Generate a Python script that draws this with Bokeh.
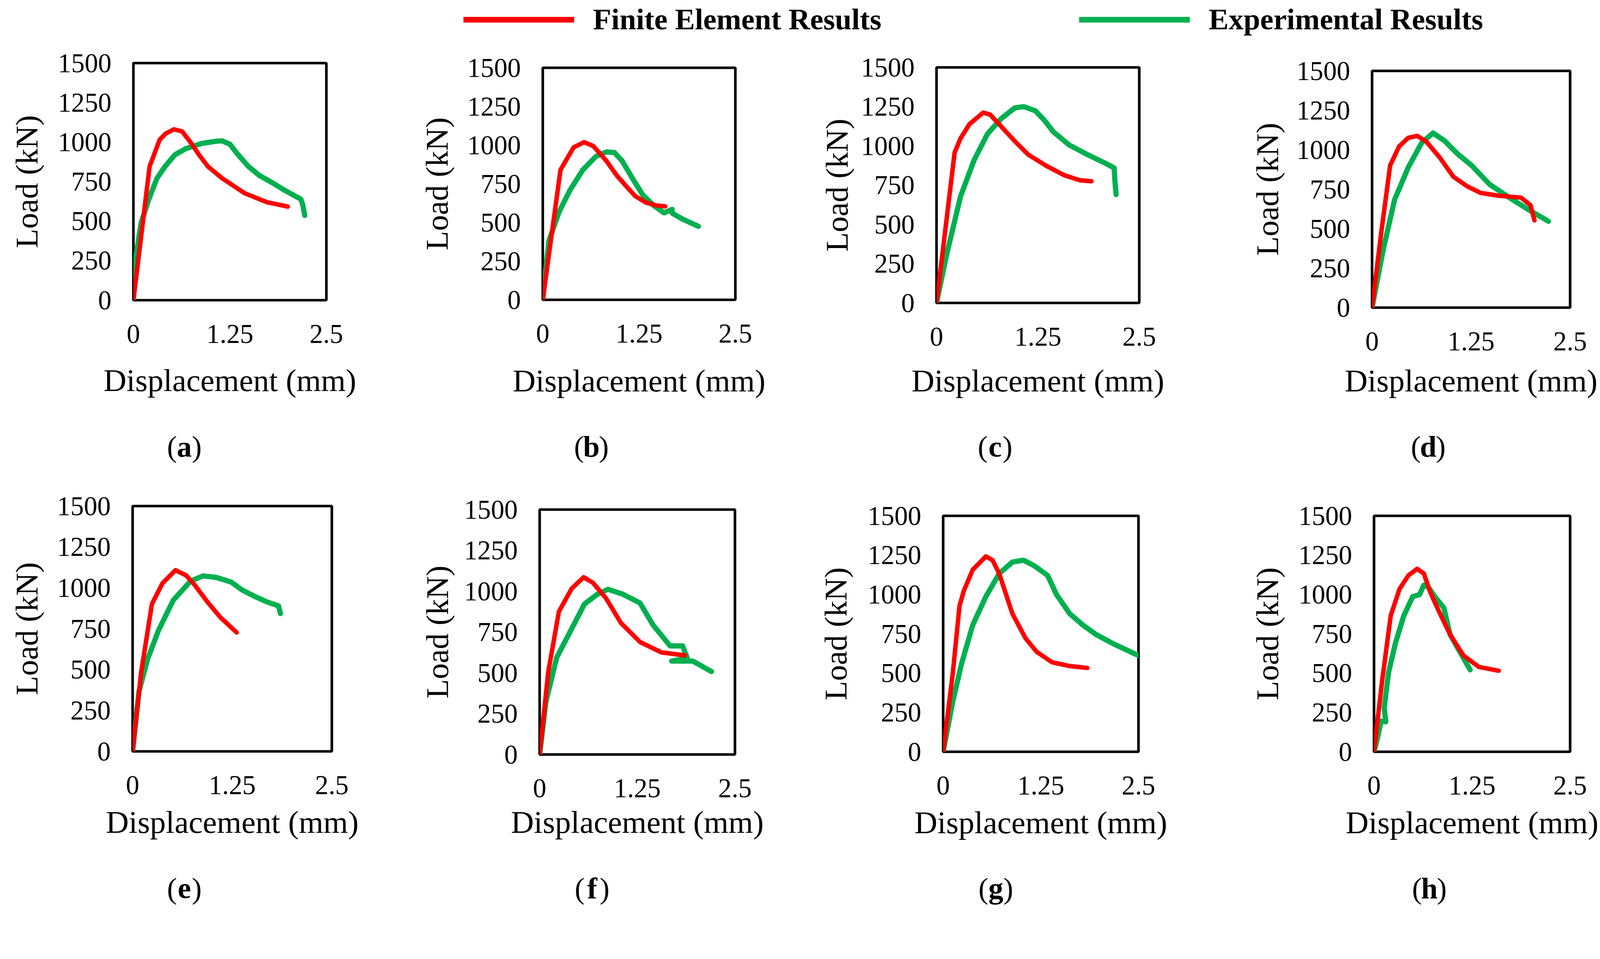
from bokeh.plotting import figure
from bokeh.models import Range1d, FixedTicker, Legend, LegendItem, Spacer
from bokeh.core.properties import value
from bokeh.layouts import column, row
from bokeh.embed import file_html
from bokeh.resources import INLINE

# ---------------- data ----------------
x_ticks = [0, 1.25, 2.5]
x_tick_labels = ["0", "1.25", "2.5"]
y_ticks = [0, 250, 500, 750, 1000, 1250, 1500]
x_title = "Displacement (mm)"
y_title = "Load (kN)"
legend_labels = ["Finite Element Results", "Experimental Results"]
panel_letters = ["a", "b", "c", "d", "e", "f", "g", "h"]

fe_a_x = [0, 0.21, 0.34, 0.42, 0.525, 0.63, 0.745, 0.85, 0.965, 1.15, 1.25, 1.44, 1.73, 2.0]
fe_a_y = [0, 846, 1015, 1055, 1081, 1068, 996, 920, 846, 771, 739, 677, 620, 592]
ex_a_x = [0, 0.017, 0.1, 0.2, 0.305, 0.41, 0.54, 0.68, 0.88, 1.08, 1.15, 1.25, 1.355, 1.49, 1.63, 1.8, 1.96, 2.17, 2.195, 2.22]
ex_a_y = [0, 226, 489, 639, 771, 846, 921, 959, 991, 1006, 1008, 987, 921, 846, 790, 743, 695, 639, 602, 536]

fe_b_x = [0, 0.23, 0.40, 0.537, 0.656, 0.826, 0.963, 1.1, 1.2, 1.337, 1.473, 1.59]
fe_b_y = [0, 840, 985, 1019, 994, 898, 802, 725, 671, 629, 610, 604]
ex_b_x = [0, 0.078, 0.214, 0.35, 0.52, 0.69, 0.826, 0.93, 1.03, 1.167, 1.3, 1.44, 1.575, 1.68, 1.68, 1.81, 2.02]
ex_b_y = [0, 379, 571, 706, 840, 927, 956, 952, 898, 783, 677, 610, 562, 585, 560, 523, 475]

fe_c_x = [0, 0.223, 0.296, 0.407, 0.575, 0.66, 0.77, 0.965, 1.13, 1.356, 1.58, 1.77, 1.91]
fe_c_y = [0, 957, 1048, 1139, 1212, 1200, 1139, 1030, 945, 872, 812, 781, 775]
ex_c_x = [0, 0.128, 0.296, 0.463, 0.63, 0.8, 0.965, 1.077, 1.217, 1.33, 1.44, 1.636, 1.86, 2.08, 2.19, 2.2, 2.215]
ex_c_y = [0, 315, 678, 909, 1078, 1175, 1242, 1250, 1224, 1163, 1090, 1006, 945, 890, 860, 775, 690]

fe_d_x = [0, 0.114, 0.228, 0.342, 0.457, 0.57, 0.685, 0.856, 1.027, 1.2, 1.37, 1.6, 1.88, 2.0, 2.05]
fe_d_y = [0, 469, 901, 1022, 1076, 1088, 1052, 950, 829, 769, 727, 709, 697, 649, 553]
ex_d_x = [0, 0.143, 0.285, 0.457, 0.628, 0.77, 0.913, 1.08, 1.256, 1.484, 1.77, 2.0, 2.226]
ex_d_y = [0, 373, 685, 889, 1046, 1106, 1058, 974, 901, 781, 685, 613, 547]

fe_e_x = [0, 0.107, 0.242, 0.376, 0.538, 0.672, 0.78, 0.94, 1.1, 1.306]
fe_e_y = [0, 483, 901, 1029, 1108, 1076, 1017, 913, 820, 727]
ex_e_x = [0, 0.08, 0.188, 0.323, 0.51, 0.726, 0.887, 1.05, 1.237, 1.37, 1.53, 1.69, 1.83, 1.855]
ex_e_y = [0, 366, 564, 738, 924, 1041, 1073, 1064, 1035, 988, 948, 913, 890, 843]

fe_f_x = [0, 0.109, 0.246, 0.41, 0.563, 0.684, 0.848, 1.04, 1.285, 1.56, 1.86]
fe_f_y = [0, 502, 875, 1016, 1086, 1051, 958, 806, 689, 625, 607]
ex_f_x = [0, 0.082, 0.219, 0.41, 0.574, 0.738, 0.875, 1.067, 1.285, 1.45, 1.67, 1.83, 1.89, 1.69, 1.96, 2.2]
ex_f_y = [0, 327, 595, 770, 922, 981, 1012, 981, 928, 794, 665, 665, 590, 572, 572, 508]

fe_g_x = [0, 0.124, 0.209, 0.265, 0.378, 0.547, 0.632, 0.717, 0.886, 1.055, 1.196, 1.394, 1.62, 1.845]
fe_g_y = [0, 503, 927, 1024, 1157, 1242, 1218, 1133, 878, 721, 636, 569, 545, 533]
ex_g_x = [0, 0.124, 0.237, 0.378, 0.547, 0.717, 0.886, 1.027, 1.168, 1.337, 1.45, 1.62, 1.79, 1.958, 2.184, 2.5]
ex_g_y = [0, 321, 563, 805, 987, 1133, 1206, 1218, 1182, 1121, 1000, 878, 805, 745, 685, 612]

fe_h_x = [0, 0.101, 0.213, 0.326, 0.438, 0.55, 0.635, 0.719, 0.83, 0.97, 1.14, 1.337, 1.59]
fe_h_y = [0, 442, 866, 1036, 1121, 1163, 1133, 1012, 890, 745, 612, 539, 515]
ex_h_x = [0, 0.05, 0.09, 0.15, 0.13, 0.185, 0.27, 0.38, 0.494, 0.58, 0.635, 0.69, 0.775, 0.89, 0.97, 1.08, 1.225]
ex_h_y = [0, 100, 195, 190, 280, 503, 685, 866, 987, 999, 1060, 1048, 987, 915, 745, 648, 521]

# ---------------- layout / style ----------------
S = 1.047                      # observed picture px per CSS px
FONT = "Liberation Serif"
RED = "#FF0000"
GREEN = "#00B050"


def c(v):        # picture px -> css px (size)
    return v / S


def cx(v):       # picture x/y -> canvas coordinate
    return v / S - 8


W = 4096
LEG_H = 100
R1_TOP, R1_H = LEG_H, 995
S1_TOP, S_H = R1_TOP + R1_H, 100
R2_TOP, R2_H = S1_TOP + S_H, 1033
S2_TOP = R2_TOP + R2_H

TICK_FS = c(72)
TITLE_FS = c(85)
LAB_FS = c(80)
Y_STAND = 56
X_STAND = 63
TB = 55      # top border of every panel figure
BB = 270     # bottom border of every panel figure

# frames in picture px (left, right, top, bottom), y-title centres, x-title centres
frames1 = [(365, 883, 177, 813), (1463, 1979, 189, 811), (2518, 3061, 188, 819), (3685, 4216, 198, 832)]
frames2 = [(363, 897, 1364, 2022), (1454, 1978, 1374, 2030), (2536, 3059, 1390, 2022), (3691, 4216, 1390, 2022)]
ytitle1 = [74, 1175, 2246, 3400]
ytitle2 = [74, 1175, 2243, 3400]
xtitle_y1, xtitle_y2 = 1024, 2208
splits1 = [0, 1050, 2070, 3180, W]
splits2 = [0, 1045, 2080, 3185, W]
lab_x1 = [502, 1593, 2675, 3836]
lab_x2 = [502, 1595, 2677, 3839]
lab_y1, lab_y2 = 1205, 2389


def make_panel(fe_x, fe_y, ex_x, ex_y, x0, w, y0, h, fr, ytc, xty):
    L, R, T, B = [cx(v) for v in fr]
    fh = B - T
    top_gap = int(round(T - y0 - TB))
    fig_h = int(round(TB + fh + BB))
    bot_gap = h - top_gap - fig_h
    p = figure(width=w, height=fig_h, x_range=Range1d(0, 2.5), y_range=Range1d(0, 1500),
               output_backend="svg", toolbar_location=None,
               min_border_left=int(round(L - x0)), min_border_right=int(round(x0 + w - R)),
               min_border_top=TB, min_border_bottom=fig_h - TB - int(round(fh)))
    p.outline_line_color = "black"
    p.outline_line_width = c(7)
    p.grid.visible = False

    p.line(ex_x, ex_y, line_color=GREEN, line_width=c(14), line_join="round", line_cap="round")
    p.line(fe_x, fe_y, line_color=RED, line_width=c(12), line_join="round", line_cap="round")

    p.xaxis.ticker = FixedTicker(ticks=x_ticks)
    p.xaxis.major_label_overrides = {t: s for t, s in zip(x_ticks, x_tick_labels)}
    p.yaxis.ticker = FixedTicker(ticks=y_ticks)
    for ax in p.axis:
        ax.axis_line_color = None
        ax.major_tick_line_color = None
        ax.minor_tick_line_color = None
        ax.major_tick_out = 0
        ax.major_tick_in = 0
        ax.minor_tick_out = 0
        ax.major_label_text_font = FONT
        ax.major_label_text_font_size = "%.1fpx" % TICK_FS
        ax.major_label_text_color = "black"
        ax.axis_label_text_font = FONT
        ax.axis_label_text_font_size = "%.1fpx" % TITLE_FS
        ax.axis_label_text_font_style = "normal"
        ax.axis_label_text_color = "black"
    p.xaxis.axis_label = x_title
    p.yaxis.axis_label = y_title
    p.xaxis.major_label_standoff = X_STAND
    p.yaxis.major_label_standoff = Y_STAND
    p.xaxis.axis_label_standoff = int(round(48 + ((xty - fr[3]) - 211) / S))
    label_left = L - Y_STAND - 8 - 2 * TICK_FS
    p.yaxis.axis_label_standoff = int(round(label_left - cx(ytc) - 45))

    kids = []
    if top_gap > 0:
        kids.append(Spacer(width=w, height=top_gap))
    kids.append(p)
    if bot_gap > 0:
        kids.append(Spacer(width=w, height=bot_gap))
    return column(*kids, spacing=0)


def make_strip(top, lab_xs, lab_y, letters):
    s = figure(width=W, height=S_H, x_range=Range1d(0, W), y_range=Range1d(0, S_H),
               output_backend="svg", toolbar_location=None, min_border=0,
               x_axis_type=None, y_axis_type=None)
    s.outline_line_color = None
    s.grid.visible = False
    ys = [S_H - (cx(lab_y) - top)] * len(lab_xs)
    xs = [cx(v) for v in lab_xs]
    off = c(20)
    common = dict(text_font=value(FONT), text_font_size="%.1fpx" % LAB_FS,
                  text_color="black", text_baseline="middle")
    s.text([x - off for x in xs], ys, text=["("] * len(xs), text_align="right", **common)
    s.text(xs, ys, text=letters, text_align="center", text_font_style="bold", **common)
    s.text([x + off for x in xs], ys, text=[")"] * len(xs), text_align="left", **common)
    return s


# legend strip
leg = figure(width=W, height=LEG_H, x_range=Range1d(0, 1), y_range=Range1d(0, 1),
             output_backend="svg", toolbar_location=None, min_border=0,
             x_axis_type=None, y_axis_type=None)
leg.outline_line_color = None
leg.grid.visible = False
r_fe = leg.line([-10, -9], [-10, -10], line_color=RED, line_width=c(15))
r_ex = leg.line([-10, -9], [-10, -10], line_color=GREEN, line_width=c(15))
label_w1 = 9.666 * c(80)
lg = Legend(items=[LegendItem(label=legend_labels[0], renderers=[r_fe]),
                   LegendItem(label=legend_labels[1], renderers=[r_ex])],
            location=(int(round(cx(1250))), 6), orientation="horizontal",
            glyph_width=int(round(c(297))), glyph_height=40,
            label_standoff=int(round(c(50))),
            spacing=int(round(cx(2900) - (cx(1250) + c(297) + c(50) + label_w1))),
            padding=0, margin=0, border_line_color=None, background_fill_alpha=0,
            label_text_font=FONT, label_text_font_size="%.1fpx" % c(80),
            label_text_font_style="bold", label_text_color="black")
leg.add_layout(lg)

data1 = [(fe_a_x, fe_a_y, ex_a_x, ex_a_y), (fe_b_x, fe_b_y, ex_b_x, ex_b_y),
         (fe_c_x, fe_c_y, ex_c_x, ex_c_y), (fe_d_x, fe_d_y, ex_d_x, ex_d_y)]
data2 = [(fe_e_x, fe_e_y, ex_e_x, ex_e_y), (fe_f_x, fe_f_y, ex_f_x, ex_f_y),
         (fe_g_x, fe_g_y, ex_g_x, ex_g_y), (fe_h_x, fe_h_y, ex_h_x, ex_h_y)]

cols1 = [make_panel(*data1[i], splits1[i], splits1[i + 1] - splits1[i], R1_TOP, R1_H,
                    frames1[i], ytitle1[i], xtitle_y1) for i in range(4)]
cols2 = [make_panel(*data2[i], splits2[i], splits2[i + 1] - splits2[i], R2_TOP, R2_H,
                    frames2[i], ytitle2[i], xtitle_y2) for i in range(4)]
strip1 = make_strip(S1_TOP, lab_x1, lab_y1, panel_letters[:4])
strip2 = make_strip(S2_TOP, lab_x2, lab_y2, panel_letters[4:])

layout = column(leg, row(*cols1, spacing=0), strip1, row(*cols2, spacing=0), strip2, spacing=0)

open("out.html", "w").write(file_html(layout, INLINE))
